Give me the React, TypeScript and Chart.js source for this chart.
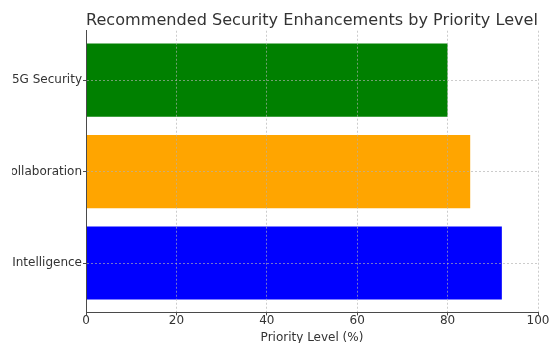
import React, { useEffect, useRef } from "react";
import { Chart, registerables } from "chart.js";

Chart.register(...registerables);

const categories = ["AI-Driven Threat Intelligence", "Cross-Sector Collaboration", "Enhanced 5G Security"];
const priorities = [92, 85, 80];
const barColors = ["#0000ff", "#ffa500", "#008000"];
const xTickValues = [0, 20, 40, 60, 80, 100];
const chartTitle = "Recommended Security Enhancements by Priority Level";
const xAxisTitle = "Priority Level (%)";

const FONT = "'DejaVu Sans', sans-serif";
const TEXT = "#333333";
const SPINE = "#4a4a4a";
const GRID = "rgba(176,176,176,0.65)";

export default function App() {
  const ref = useRef<HTMLCanvasElement>(null);

  useEffect(() => {
    if (!ref.current) return;
    const chart = new Chart(ref.current, {
      type: "bar",
      data: {
        datasets: [
          {
            data: categories.map((_, i) => ({ x: priorities[i], y: i })),
            backgroundColor: barColors,
            borderWidth: 0,
            barPercentage: 0.8,
            categoryPercentage: 1,
          },
        ],
      },
      options: {
        indexAxis: "y",
        responsive: false,
        animation: false,
        devicePixelRatio: 1,
        layout: { padding: { left: 0, right: 14, top: 0, bottom: 4.8 } },
        plugins: {
          legend: { display: false },
          tooltip: { enabled: false },
          title: {
            display: true,
            fullSize: false,
            text: chartTitle,
            color: TEXT,
            font: { family: FONT, size: 16.2, weight: "normal" },
            padding: { top: 11, bottom: 0.3 },
          },
        },
        scales: {
          x: {
            type: "linear",
            position: "bottom",
            min: 0,
            max: 100,
            offset: false,
            afterBuildTicks: (s: any) => {
              s.ticks = xTickValues.map((v) => ({ value: v }));
            },
            afterFit: (s: any) => {
              s.height = 32.8;
              s.paddingLeft = 0;
              s.paddingRight = 0;
            },
            ticks: {
              color: TEXT,
              font: { family: FONT, size: 12 },
              padding: -2,
              maxRotation: 0,
              autoSkip: false,
            },
            grid: {
              offset: false,
              color: GRID,
              lineWidth: 1,
              drawTicks: true,
              tickLength: 3,
              tickColor: SPINE,
              tickWidth: 1,
              tickBorderDash: [],
              z: 1,
            } as any,
            border: { display: true, color: SPINE, width: 1, dash: [2, 2], z: 2 } as any,
            title: {
              display: true,
              text: xAxisTitle,
              color: TEXT,
              font: { family: FONT, size: 12 },
              padding: { top: 0, bottom: 0 },
            },
          },
          y: {
            type: "linear",
            position: "left",
            min: -0.54,
            max: 2.54,
            offset: false,
            afterBuildTicks: (s: any) => {
              s.ticks = categories.map((_, i) => ({ value: i }));
            },
            afterFit: (s: any) => {
              s.width = 74;
              s.paddingTop = 0;
              s.paddingBottom = 0;
            },
            ticks: {
              color: TEXT,
              font: { family: FONT, size: 12 },
              padding: 1,
              autoSkip: false,
              callback: (v: any) => categories[Math.round(Number(v))],
            },
            grid: {
              offset: false,
              color: GRID,
              lineWidth: 1,
              drawTicks: true,
              tickLength: 3,
              tickColor: SPINE,
              tickWidth: 1,
              tickBorderDash: [],
              z: 1,
            } as any,
            border: { display: true, color: SPINE, width: 1, dash: [2, 2], z: 2 } as any,
          },
        },
      },
    } as any);
    return () => chart.destroy();
  }, []);

  return (
    <div
      style={{
        position: "absolute",
        left: 0,
        top: 0,
        width: 552,
        height: 343,
        overflow: "hidden",
        background: "#ffffff",
      }}
    >
      <canvas
        ref={ref}
        width={540}
        height={350}
        style={{ position: "absolute", left: 12, top: 0, width: 540, height: 350 }}
      />
    </div>
  );
}
